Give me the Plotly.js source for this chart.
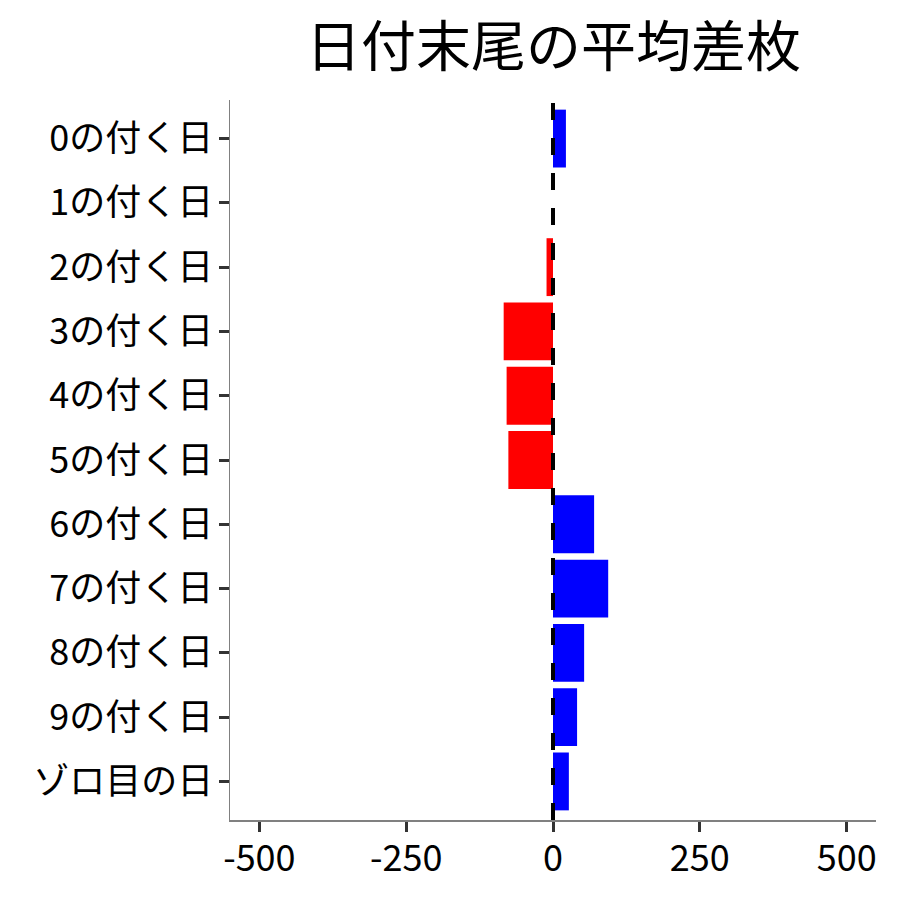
<!DOCTYPE html>
<html>
<head>
<meta charset="utf-8">
<script src="https://cdn.plot.ly/plotly-3.0.1.min.js"></script>
<style>html,body{margin:0;padding:0;background:#fff;}#chart{width:900px;height:900px;}</style>
</head>
<body>
<div id="chart"></div>
<script>
const categories = ["0の付く日","1の付く日","2の付く日","3の付く日","4の付く日","5の付く日","6の付く日","7の付く日","8の付く日","9の付く日","ゾロ目の日"];
const values = [22, 0, -11, -84, -79, -76, 70, 94, 53, 41, 27];
const xTicks = [-500, -250, 0, 250, 500];
const xTickLabels = ["-500", "-250", "0", "250", "500"];

const colors = values.map(v => v < 0 ? "#FF0000" : "#0000FF");
const FONT = '"Noto Sans CJK JP", "Noto Sans", sans-serif';

const trace = {
  type: "bar",
  orientation: "h",
  x: values,
  y: categories,
  marker: {color: colors, line: {width: 0}},
  hoverinfo: "x+y"
};

const layout = {
  width: 900, height: 900,
  margin: {l: 230, r: 24, t: 100, b: 80},
  paper_bgcolor: "#fff", plot_bgcolor: "#fff",
  font: {family: FONT, color: "#000"},
  showlegend: false,
  bargap: 0.1,
  title: {text: "日付末尾の平均差枚", font: {family: FONT, size: 55, color: "#000"}, x: 0.615, xanchor: "center", y: 0.948, yanchor: "middle"},
  xaxis: {
    range: [-550, 550],
    tickvals: xTicks, ticktext: xTickLabels,
    showgrid: false, zeroline: false,
    showline: true, linecolor: "#808080", linewidth: 1.5,
    ticks: "outside", ticklen: 10, tickwidth: 3, tickcolor: "#333",
    tickfont: {family: FONT, size: 36, color: "#000"},
    ticklabelstandoff: -4,
    fixedrange: true
  },
  yaxis: {
    type: "category",
    categoryorder: "array", categoryarray: categories,
    range: [10.6, -0.6],
    showgrid: false, zeroline: false,
    showline: true, linecolor: "#808080", linewidth: 1.5,
    ticks: "outside", ticklen: 10, tickwidth: 3, tickcolor: "#333",
    tickfont: {family: FONT, size: 36, color: "#000"},
    ticklabelstandoff: -2,
    fixedrange: true
  },
  shapes: [{
    type: "line", xref: "x", yref: "paper",
    x0: 0, x1: 0, y0: 0, y1: 1,
    line: {color: "#000", width: 4, dash: "17px,18px"},
    layer: "above"
  }]
};

Plotly.newPlot("chart", [trace], layout, {displayModeBar: false, staticPlot: true});
</script>
</body>
</html>
